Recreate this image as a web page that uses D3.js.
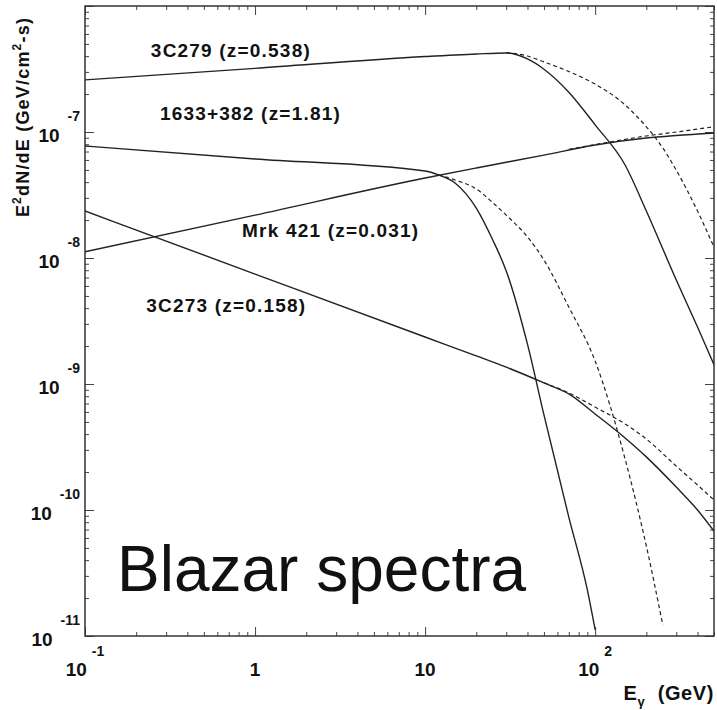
<!DOCTYPE html>
<html>
<head>
<meta charset="utf-8">
<script src="https://cdn.jsdelivr.net/npm/d3@7"></script>
<style>
  body { margin: 0; background: #fff; }
  svg { display: block; }
  text { font-family: "Liberation Sans", Arial, Helvetica, sans-serif; fill: #111; }
  .bold { font-weight: bold; }
</style>
</head>
<body>
<script>
// energies in GeV, fluxes are E^2 dN/dE in GeV/cm^2-s
var e3c279 = [0.1, 1, 10, 20, 30, 40, 50, 70, 100, 150, 200, 300, 400, 500];
var f3c279 = [2.59e-7, 3.20e-7, 3.97e-7, 4.16e-7, 4.24e-7, 3.80e-7, 3.15e-7, 2.07e-7, 1.14e-7, 5.47e-8, 2.36e-8, 6.69e-9, 2.83e-9, 1.42e-9];
var e3c279Dash = [30, 40, 50, 70, 100, 150, 200, 250, 300, 400, 500];
var f3c279Dash = [4.26e-7, 4.01e-7, 3.60e-7, 3.02e-7, 2.40e-7, 1.64e-7, 1.10e-7, 7.47e-8, 4.97e-8, 2.36e-8, 1.22e-8];

var eMrk = [0.1, 1, 10, 20, 50, 100, 200, 300, 500];
var fMrk = [1.12e-8, 2.19e-8, 4.31e-8, 5.18e-8, 6.56e-8, 7.89e-8, 8.96e-8, 9.38e-8, 9.82e-8];
var eMrkDash = [70, 100, 200, 300, 500];
var fMrkDash = [7.30e-8, 7.95e-8, 9.30e-8, 1.00e-7, 1.10e-7];

var e1633 = [0.1, 1, 10, 12, 15, 20, 25, 30, 40, 50, 70, 90, 100];
var f1633 = [7.75e-8, 6.11e-8, 4.90e-8, 4.56e-8, 3.94e-8, 2.49e-8, 1.39e-8, 7.89e-9, 2.07e-9, 5.68e-10, 8.79e-11, 2.32e-11, 1.12e-11];
var e1633Dash = [12, 15, 20, 25, 30, 40, 50, 70, 100, 150, 200, 250];
var f1633Dash = [4.56e-8, 4.16e-8, 3.53e-8, 2.75e-8, 2.19e-8, 1.47e-8, 9.64e-9, 4.08e-9, 1.52e-9, 2.54e-10, 5.18e-11, 1.22e-11];

var e3c273 = [0.1, 1, 10, 20, 30, 50, 70, 100, 150, 200, 300, 400, 500];
var f3c273 = [2.36e-8, 7.46e-9, 2.36e-9, 1.67e-9, 1.36e-9, 1.02e-9, 8.34e-10, 5.78e-10, 3.73e-10, 2.64e-10, 1.52e-10, 1.00e-10, 6.80e-11];
var e3c273Dash = [50, 70, 100, 150, 200, 300, 400, 500];
var f3c273Dash = [1.02e-9, 8.49e-10, 6.56e-10, 4.82e-10, 3.66e-10, 2.23e-10, 1.58e-10, 1.20e-10];

// source labels: name, redshift, anchor energy and flux (left/baseline)
var srcNames = ["3C279", "1633+382", "Mrk 421", "3C273"];
var srcZ = ["0.538", "1.81", "0.031", "0.158"];
var srcLabelE = [0.244, 0.276, 0.839, 0.229];
var srcLabelF = [3.94e-7, 1.25e-7, 1.47e-8, 3.73e-9];

var xMajor = [0.1, 1, 10, 100];
var xMajorLabels = [["10", "-1"], ["1", ""], ["10", ""], ["10", "2"]];
var yMajor = [1e-7, 1e-8, 1e-9, 1e-10, 1e-11];
var yMajorExp = ["-7", "-8", "-9", "-10", "-11"];

var W = 717, H = 710;
var svg = d3.select("body").append("svg").attr("width", W).attr("height", H);

var x = d3.scaleLog().domain([0.1, 500]).range([85, 714]);
var y = d3.scaleLog().domain([1e-11, 1e-6]).range([636, 6]);

function isMajor(d) {
    var l = Math.log10(d);
    return Math.abs(l - Math.round(l)) < 1e-6;
}

// tick values 1..9 per decade
var xTicks = [];
[0.1, 1, 10, 100].forEach(function(d) {
    for (var k = 1; k < 10; k++) {
        if (d * k <= 500.0001) xTicks.push(d * k);
    }
});
var yTicks = [];
[1e-11, 1e-10, 1e-9, 1e-8, 1e-7].forEach(function(d) {
    for (var k = 1; k < 10; k++) yTicks.push(d * k);
});
yTicks.push(1e-6);

var x0 = x.range()[0], x1 = x.range()[1];
var y0 = y.range()[0], y1 = y.range()[1];

// axes, ticks pointing into the frame
function styleTicks(g, dir, attr) {
    g.select(".domain").remove();
    g.selectAll(".tick line")
        .attr("stroke", "#444")
        .attr("stroke-width", 1)
        .attr(attr, function(d) { return dir * (isMajor(d) ? 9 : 4); });
}

svg.append("g").attr("transform", "translate(0," + y0 + ")")
    .call(d3.axisBottom(x).tickValues(xTicks).tickFormat(""))
    .call(styleTicks, -1, "y2");
svg.append("g").attr("transform", "translate(0," + y1 + ")")
    .call(d3.axisTop(x).tickValues(xTicks).tickFormat(""))
    .call(styleTicks, 1, "y2");
svg.append("g").attr("transform", "translate(" + x0 + ",0)")
    .call(d3.axisLeft(y).tickValues(yTicks).tickFormat(""))
    .call(styleTicks, 1, "x2");
svg.append("g").attr("transform", "translate(" + x1 + ",0)")
    .call(d3.axisRight(y).tickValues(yTicks).tickFormat(""))
    .call(styleTicks, -1, "x2");

// frame
svg.append("rect")
    .attr("x", x0).attr("y", y1)
    .attr("width", x1 - x0).attr("height", y0 - y1)
    .attr("fill", "none").attr("stroke", "#333").attr("stroke-width", 1.5);

// tick labels
xMajor.forEach(function(v, i) {
    var t = svg.append("text").attr("class", "bold")
        .attr("x", x(v)).attr("y", y0 + 40)
        .attr("text-anchor", "middle")
        .attr("font-size", 19)
        .text(xMajorLabels[i][0]);
    if (xMajorLabels[i][1]) {
        t.append("tspan").attr("dx", 5).attr("dy", -20)
            .attr("font-size", 14).text(xMajorLabels[i][1]);
    }
});

yMajor.forEach(function(v, i) {
    var t = svg.append("text").attr("class", "bold")
        .attr("x", 80).attr("y", y(v) + 10)
        .attr("text-anchor", "end")
        .attr("font-size", 19)
        .text("10");
    t.append("tspan").attr("dx", 8).attr("dy", -21)
        .attr("font-size", 14).text(yMajorExp[i]);
});

// axis titles
var xt = svg.append("text").attr("class", "bold")
    .attr("x", 714).attr("y", 700)
    .attr("text-anchor", "end").attr("font-size", 20)
    .attr("letter-spacing", 0.6)
    .text("E");
xt.append("tspan").attr("dy", 6).attr("font-size", 13).text("\u03b3");
xt.append("tspan").attr("dy", -6).text("  (GeV)").attr("xml:space", "preserve");

var yt = svg.append("text").attr("class", "bold")
    .attr("transform", "translate(29,117) rotate(-90)")
    .attr("text-anchor", "middle").attr("font-size", 18)
    .attr("letter-spacing", 1.2)
    .text("E");
yt.append("tspan").attr("dy", -8).attr("font-size", 12).text("2");
yt.append("tspan").attr("dy", 8).text("dN/dE (GeV/cm");
yt.append("tspan").attr("dy", -8).attr("font-size", 12).text("2");
yt.append("tspan").attr("dy", 8).text("-s)");

// spectra
svg.append("clipPath").attr("id", "plotClip")
    .append("rect").attr("x", x0).attr("y", y1)
    .attr("width", x1 - x0).attr("height", y0 - y1);

var plot = svg.append("g").attr("clip-path", "url(#plotClip)");

var line = d3.line()
    .x(function(d) { return x(d[0]); })
    .y(function(d) { return y(d[1]); })
    .curve(d3.curveMonotoneX);

var series = [
    [e3c279, f3c279, false],
    [e3c279Dash, f3c279Dash, true],
    [eMrk, fMrk, false],
    [eMrkDash, fMrkDash, true],
    [e1633, f1633, false],
    [e1633Dash, f1633Dash, true],
    [e3c273, f3c273, false],
    [e3c273Dash, f3c273Dash, true]
];

series.forEach(function(s) {
    var pts = d3.zip(s[0], s[1]);
    plot.append("path")
        .datum(pts)
        .attr("d", line)
        .attr("fill", "none")
        .attr("stroke", "#222")
        .attr("stroke-width", s[2] ? 1.2 : 1.4)
        .attr("stroke-dasharray", s[2] ? "4,3" : null);
});

// source labels
srcNames.forEach(function(n, i) {
    svg.append("text").attr("class", "bold")
        .attr("x", x(srcLabelE[i])).attr("y", y(srcLabelF[i]))
        .attr("font-size", 19)
        .attr("letter-spacing", 1.2)
        .text(n + " (z=" + srcZ[i] + ")");
});

// big caption
svg.append("text")
    .attr("x", 117).attr("y", 591)
    .attr("font-size", 64)
    .text("Blazar spectra");
</script>
</body>
</html>
